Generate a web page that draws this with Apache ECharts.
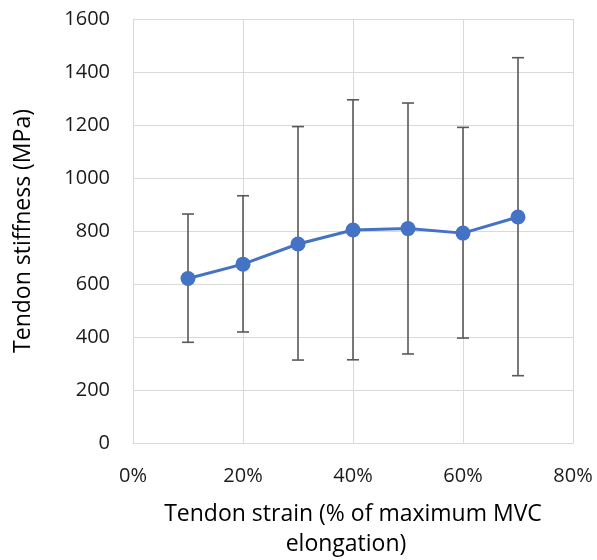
<!DOCTYPE html>
<html>
<head>
<meta charset="utf-8">
<script src="https://cdn.jsdelivr.net/npm/echarts@6/dist/echarts.min.js"></script>
<style>html,body{margin:0;padding:0;background:#fff;}#c{width:597px;height:560px;}</style>
</head>
<body>
<div id="c"></div>
<script>
const strain = [0.1, 0.2, 0.3, 0.4, 0.5, 0.6, 0.7];
const stiffness = [621, 675, 751, 804, 809, 792, 853];
const upper = [864, 933, 1194, 1295, 1283, 1191, 1454];
const lower = [380, 419, 313, 314, 336, 396, 254];
const xTicks = ['0%', '20%', '40%', '60%', '80%'];
const yTitle = 'Tendon stiffness (MPa)';
const xTitle1 = 'Tendon strain (% of maximum MVC';
const xTitle2 = 'elongation)';

const FONT = '"Open Sans", sans-serif';
const chart = echarts.init(document.getElementById('c'), null, {renderer: 'canvas'});
const lineData = strain.map((x, i) => [x, stiffness[i]]);
const errData = strain.map((x, i) => [x, lower[i], upper[i]]);

chart.setOption({
  animation: false,
  backgroundColor: '#fff',
  grid: {left: 133, right: 24, top: 19, bottom: 117, containLabel: false},
  xAxis: {
    type: 'value', min: 0, max: 0.8, interval: 0.2,
    axisLine: {show: true, lineStyle: {color: '#d9d9d9', width: 1}},
    axisTick: {show: false},
    splitLine: {show: true, lineStyle: {color: '#d9d9d9', width: 1}},
    axisLabel: {
      color: '#1a1a1a', fontFamily: FONT, fontSize: 20, margin: 23,
      formatter: function (v) { return xTicks[Math.round(v / 0.2)]; }
    }
  },
  yAxis: {
    type: 'value', min: 0, max: 1600, interval: 200,
    axisLine: {show: true, lineStyle: {color: '#d9d9d9', width: 1}},
    axisTick: {show: false},
    splitLine: {show: true, lineStyle: {color: '#d9d9d9', width: 1}},
    axisLabel: {color: '#1a1a1a', fontFamily: FONT, fontSize: 20, margin: 23,
      formatter: function (v) { return String(v); }}
  },
  graphic: [
    {type: 'text', rotation: Math.PI / 2, x: 23, y: 231,
     style: {text: yTitle, fill: '#000', font: '23px ' + FONT, align: 'center', verticalAlign: 'middle'}},
    {type: 'text', x: 353, y: 514,
     style: {text: xTitle1, fill: '#000', font: '23px ' + FONT, align: 'center', verticalAlign: 'middle'}},
    {type: 'text', x: 346, y: 544,
     style: {text: xTitle2, fill: '#000', font: '23px ' + FONT, align: 'center', verticalAlign: 'middle'}}
  ],
  series: [
    {
      type: 'custom', z: 1,
      data: errData,
      renderItem: function (params, api) {
        const x = api.value(0);
        const lo = api.coord([x, api.value(1)]);
        const hi = api.coord([x, api.value(2)]);
        const hw = 6;
        const st = {stroke: '#595959', lineWidth: 1.6};
        return {type: 'group', children: [
          {type: 'line', shape: {x1: lo[0], y1: lo[1], x2: hi[0], y2: hi[1]}, style: st},
          {type: 'line', shape: {x1: lo[0] - hw, y1: lo[1], x2: lo[0] + hw, y2: lo[1]}, style: st},
          {type: 'line', shape: {x1: hi[0] - hw, y1: hi[1], x2: hi[0] + hw, y2: hi[1]}, style: st}
        ]};
      }
    },
    {
      type: 'line', z: 3,
      data: lineData,
      symbol: 'circle', symbolSize: 15,
      itemStyle: {color: '#4472C4'},
      lineStyle: {color: '#4472C4', width: 3}
    }
  ]
});
</script>
</body>
</html>
